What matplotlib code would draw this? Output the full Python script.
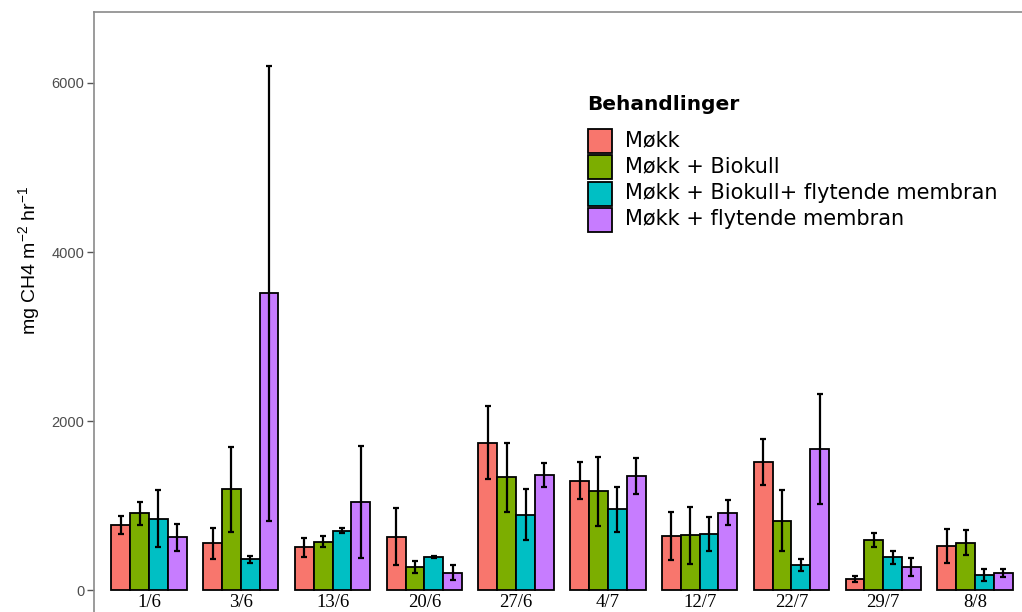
import matplotlib
matplotlib.use("Agg")
import matplotlib.pyplot as plt
from matplotlib.patches import Rectangle
from matplotlib.transforms import blended_transform_factory
import numpy as np

# Sampling dates
dates = ["1/6", "3/6", "13/6", "20/6", "27/6", "4/7", "12/7", "22/7", "29/7", "8/8"]

# Treatments and colours
treatments = [
    "Møkk",
    "Møkk + Biokull",
    "Møkk + Biokull+ flytende membran",
    "Møkk + flytende membran",
]
colors = ["#F8766D", "#7CAE00", "#00BFC4", "#C77CFF"]

# Mean CH4 flux (mg CH4 m-2 hr-1) per treatment and date
mokk = [770, 552, 505, 631, 1743, 1294, 639, 1515, 134, 521]
mokk_biokull = [907, 1191, 572, 268, 1334, 1168, 647, 820, 592, 560]
mokk_biokull_membran = [844, 363, 702, 387, 891, 955, 663, 292, 387, 181]
mokk_membran = [623, 3510, 1041, 205, 1365, 1349, 915, 1672, 276, 205]

# Error (+/-) per treatment and date
err_mokk = [107, 185, 110, 340, 430, 217, 288, 276, 35, 198]
err_mokk_biokull = [138, 503, 63, 70, 406, 406, 340, 358, 83, 150]
err_mokk_biokull_membran = [335, 40, 28, 10, 300, 265, 200, 71, 75, 71]
err_mokk_membran = [162, 2690, 660, 90, 142, 217, 146, 650, 106, 47]

means = [mokk, mokk_biokull, mokk_biokull_membran, mokk_membran]
errors = [err_mokk, err_mokk_biokull, err_mokk_biokull_membran, err_mokk_membran]

W, H = 1022, 612
fig = plt.figure(figsize=(W / 100, H / 100), dpi=100)
fig.patch.set_facecolor("white")


def fx(px):
    return px / W


def fy(py):
    return 1 - py / H


# Panel (right and bottom edges run past the canvas)
ax = fig.add_axes([fx(94), fy(624), fx(936), 612 / H])
ax.set_xlim(0.4, 10.6)
ax.set_ylim(-402, 6840)

x = np.arange(1, len(dates) + 1)
n = len(treatments)
bw = 0.205
for i, (vals, errs, col) in enumerate(zip(means, errors, colors)):
    pos = x + (i - (n - 1) / 2) * bw
    ax.bar(pos, vals, width=bw, color=col, edgecolor="black", linewidth=1.3, zorder=2)
    ax.errorbar(pos, vals, yerr=errs, fmt="none", ecolor="black",
                elinewidth=1.6, capsize=2.2, capthick=1.6, zorder=3)

# Date labels just under the bars
date_tr = blended_transform_factory(ax.transData, fig.transFigure)
for xi, d in zip(x, dates):
    ax.text(xi, fy(611), d, ha="center", va="bottom", fontsize=13.5,
            family="Liberation Serif", color="black", transform=date_tr)

ax.set_xticks([])
ax.set_yticks([0, 2000, 4000, 6000])
ax.set_yticklabels(["0", "2000", "4000", "6000"])
ax.tick_params(axis="y", length=5, width=1.0, color="#555555", labelcolor="#4d4d4d",
               labelsize=10.5, pad=2)
for lab in ax.get_yticklabels():
    lab.set_family("Liberation Sans")

for side in ["top", "left", "right", "bottom"]:
    ax.spines[side].set_color("#8a8a8a")
    ax.spines[side].set_linewidth(1.2)

plt.rcParams["mathtext.default"] = "regular"
fig.text(fx(29), fy(260), r"mg CH4 m$^{-2}$ hr$^{-1}$", rotation=90,
         ha="center", va="center", fontsize=14, family="Liberation Sans")

# Legend
fig.text(fx(587), fy(110), "Behandlinger", ha="left", va="baseline",
         fontsize=14.5, fontweight="bold", family="DejaVu Sans")
pitch = 26.3
for i, (lab, col) in enumerate(zip(treatments, colors)):
    top = 128 + pitch * i
    fig.patches.append(Rectangle((fx(588), fy(top + 25)), fx(24), 24 / H,
                                 facecolor=col, edgecolor="black", linewidth=1.3,
                                 transform=fig.transFigure, figure=fig))
    fig.text(fx(625), fy(146 + pitch * i), lab, ha="left", va="baseline",
             fontsize=15, family="DejaVu Sans")

fig.savefig("out.png", dpi=100, facecolor="white")
